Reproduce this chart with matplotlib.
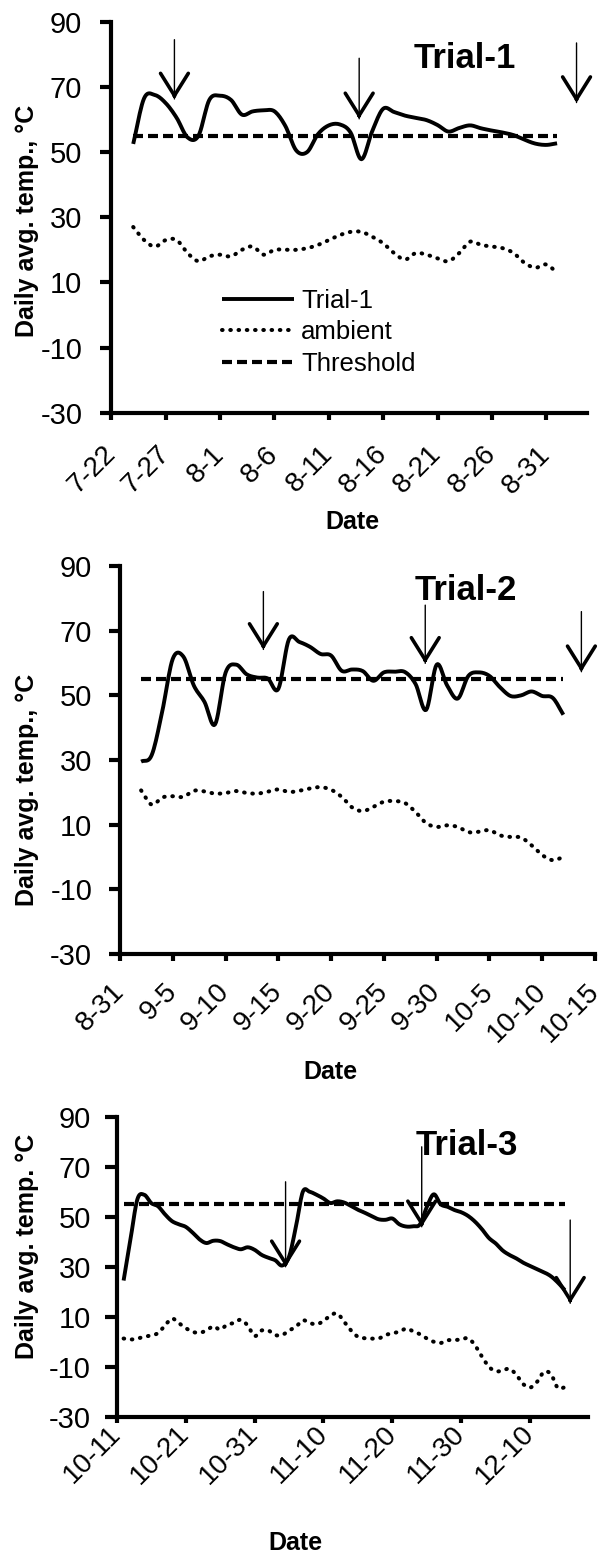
import numpy as np
import pandas as pd
import matplotlib
matplotlib.use('Agg')
import matplotlib.pyplot as plt
import matplotlib.dates as mdates

plt.rcParams['font.family'] = ['Liberation Sans', 'DejaVu Sans']

YEAR = 2013
THRESHOLD = 55

# Trial-1, daily averages starting 7-24
t1_start = '7-24'
t1_trial = [52.5, 66.5, 67.5, 65, 60.5, 54.5, 55, 66, 67.3, 66, 61.5, 62.5, 62.8, 62.5,
            58, 50.5, 50, 55.5, 58.2, 58.5, 56, 47.8, 56.5, 63.3, 62.3, 61.2, 60.5,
            59.8, 58.3, 56.3, 57.4, 58.2, 57.3, 56.6, 56, 55.2, 53.8, 52.6, 52.2, 52.7]
t1_ambient = [27, 23, 21, 23, 23, 19, 16.5, 18, 18.5, 18, 20, 21, 18.5, 20, 20, 20,
              20.5, 21.5, 23, 24.5, 25.5, 25.5, 24, 22, 19, 17, 19, 18.5, 17.4, 16.5,
              19, 22.5, 21.5, 21, 20.5, 19, 16, 14.5, 15.5, 13]
t1_ticks = ['7-22', '7-27', '8-1', '8-6', '8-11', '8-16', '8-21', '8-26', '8-31']
t1_arrow_x = ['7-27 19', '8-13 19', '9-2 19']
t1_arrow_top = [84.5, 78.8, 83.5]
t1_arrow_tip = [66.3, 60.2, 65.2]

# Trial-2, daily averages starting 9-2
t2_start = '9-2'
t2_trial = [29.5, 31.5, 45, 61.3, 62, 53, 48, 41, 57, 59.5, 56.5, 55.5, 55.2, 52,
            67.3, 66.5, 65, 62.8, 62.3, 57.6, 58, 57.5, 54.5, 57.1, 57.3, 57.2, 53.5,
            45.5, 59.5, 53, 49, 56, 57.1, 56, 52.5, 49.8, 50, 51.2, 49.8, 49.2, 44]
t2_ambient = [20.6, 16.2, 18.4, 18.8, 18.6, 20.5, 20.3, 19.6, 19.8, 20.4, 19.8, 19.6,
              20.2, 20.9, 20.1, 20.5, 21.2, 21.6, 20.8, 18.6, 15.3, 14.2, 15.5, 17.1,
              17.3, 16.7, 13.9, 10.5, 9.3, 9.8, 9.3, 7.7, 7.8, 8.3, 6.7, 6.2, 6, 3.6,
              0.6, -1, 0]
t2_ticks = ['8-31', '9-5', '9-10', '9-15', '9-20', '9-25', '9-30', '10-5', '10-10', '10-15']
t2_arrow_x = ['9-13 14', '9-28 22', '10-13 17']
t2_arrow_top = [82.1, 77.9, 75.9]
t2_arrow_tip = [64.2, 59.9, 57.3]

# Trial-3, daily averages starting 10-12
t3_start = '10-12'
t3_trial = [24.5, 41, 57, 58.8, 55.5, 54.2, 51, 48.3, 47, 46, 43.7, 41, 39.5, 40.4,
            40.3, 39, 37.8, 37, 37.8, 36.8, 34.8, 33.6, 32.6, 30.5, 34, 46, 60, 60,
            58.8, 57.3, 55.5, 56.2, 55.7, 54.3, 52.8, 51.6, 50.2, 49, 48.8, 49.3, 47,
            46.1, 46.2, 47, 54, 59, 55, 54, 52.7, 51.8, 50.3, 48, 45, 41.5, 39.3,
            36.5, 34.7, 33.3, 31.6, 30.3, 29, 27.8, 26.2, 23.7, 20.7]
t3_ambient = [1.3, 0.9, 1.3, 2, 2.5, 3.5, 6.5, 9.3, 7.5, 5.5, 4, 3.6, 4.5, 6.2, 4.9,
              6.8, 7.5, 8.8, 6.5, 2.3, 4.5, 4.5, 2.7, 2.7, 4.5, 6, 8.6, 7.5, 7, 8.3,
              10.5, 11.3, 8, 4.5, 2, 1.4, 1.3, 1.3, 2.7, 3.4, 4, 5.3, 4.2, 3, 1.3, 0,
              -0.5, 0.6, 0.7, 0.9, 1.4, -1.5, -6, -10, -11.8, -11.5, -10.8, -13.3, -17,
              -18.3, -16, -12, -13, -18.5, -18.2]
t3_ticks = ['10-11', '10-21', '10-31', '11-10', '11-20', '11-30', '12-10']
t3_arrow_x = ['11-4 12', '11-24 6', '12-15 19']
t3_arrow_top = [64, 78, 48.7]
t3_arrow_tip = [30, 46, 15.4]

y_ticks = [-30, -10, 10, 30, 50, 70, 90]


def md(s):
    # 'm-d' or 'm-d hh' -> matplotlib date number
    date, _, hour = s.partition(' ')
    m, d = date.split('-')
    ts = pd.Timestamp(year=YEAR, month=int(m), day=int(d)) + pd.Timedelta(hours=int(hour or 0))
    return mdates.date2num(ts)


def smooth(x, y, n=10):
    # Catmull-Rom curve through the points, like Excel's smoothed line
    x = np.asarray(x, float)
    y = np.asarray(y, float)
    xp = np.r_[2 * x[0] - x[1], x, 2 * x[-1] - x[-2]]
    yp = np.r_[2 * y[0] - y[1], y, 2 * y[-1] - y[-2]]
    t = np.linspace(0, 1, n, endpoint=False)[:, None]

    def cr(p):
        p0, p1, p2, p3 = p[:-3], p[1:-2], p[2:-1], p[3:]
        return 0.5 * (2 * p1 + (p2 - p0) * t + (2 * p0 - 5 * p1 + 4 * p2 - p3) * t ** 2
                      + (3 * p1 - p0 - 3 * p2 + p3) * t ** 3)
    return np.r_[cr(xp).T.ravel(), x[-1]], np.r_[cr(yp).T.ravel(), y[-1]]


fig = plt.figure(figsize=(6, 15.55), dpi=100)
ax1 = fig.add_axes([0.1858, 0.7346, 0.7932, 0.2514])
ax2 = fig.add_axes([0.2, 0.3865, 0.7917, 0.2495])
ax3 = fig.add_axes([0.1945, 0.0889, 0.786, 0.1929])

panels = [
    (ax1, t1_start, t1_trial, t1_ambient, t1_ticks, '7-22', '9-3 19', t1_arrow_x, t1_arrow_top,
     t1_arrow_tip, 'Trial-1', ('8-23 12', 78.8), 'Daily avg. temp., \u00b0C',
     (-0.178, 0.491), (0.507, -0.28), 8, 13, 5, 22),
    (ax2, t2_start, t2_trial, t2_ambient, t2_ticks, '8-31', '10-15', t2_arrow_x, t2_arrow_top,
     t2_arrow_tip, 'Trial-2', ('10-2 19', 82.3), 'Daily avg. temp., \u00b0C',
     (-0.195, 0.424), (0.444, -0.304), 8, 12, 5, 19),
    (ax3, t3_start, t3_trial, t3_ambient, t3_ticks, '10-11', '12-18 10', t3_arrow_x, t3_arrow_top,
     t3_arrow_tip, 'Trial-3', ('11-30 19', 78.7), 'Daily avg. temp. \u00b0C',
     (-0.19, 0.567), (0.38, -0.421), 9, 9.5, 4, 5.5),
]

for (ax, start, trial, ambient, ticks, xmin, xmax, ax_x, ax_top, ax_tip, title, title_pos,
     ylab, ylab_pos, xlab_pos, ylen, ypad, xlen, xpad) in panels:
    x = md(start) + np.arange(len(trial))
    sx, sy = smooth(x, trial)
    h_trial, = ax.plot(sx, sy, color='black', lw=2.8, solid_capstyle='butt')
    ax_days = md(start) + np.arange(len(ambient))
    sx, sy = smooth(ax_days, ambient)
    h_amb, = ax.plot(sx, sy, color='black', lw=2.9, linestyle=(0, (0.15, 1.9)),
                     dash_capstyle='round')
    h_thr, = ax.plot(x, np.full(len(x), THRESHOLD), color='black', lw=3,
                     linestyle=(0, (2.4, 1.2)))

    for xa, top, tip in zip(ax_x, ax_top, ax_tip):
        ax.annotate('', xy=(md(xa), tip), xytext=(md(xa), top),
                    arrowprops=dict(arrowstyle='-', lw=1.0, color='black',
                                    shrinkA=0, shrinkB=0))
        ax.annotate('', xy=(md(xa), tip), xytext=(md(xa), tip + 1.5),
                    arrowprops=dict(arrowstyle='->,head_length=0.8,head_width=0.5',
                                    mutation_scale=20, lw=2.6, color='black',
                                    shrinkA=0, shrinkB=0))

    ax.text(md(title_pos[0]), title_pos[1], title, ha='center', va='center',
            fontsize=25, fontweight='bold')

    ax.set_xlim(md(xmin), md(xmax))
    ax.set_ylim(-30, 90)
    ax.set_yticks(y_ticks)
    ax.set_yticklabels([str(v) for v in y_ticks])
    ax.set_xticks([md(t) for t in ticks])
    ax.set_xticklabels(ticks, rotation=45, ha='right', va='center', rotation_mode='anchor')

    for side in ['top', 'right']:
        ax.spines[side].set_visible(False)
    for side in ['left', 'bottom']:
        ax.spines[side].set_linewidth(3)
    ax.tick_params(axis='y', direction='out', length=ylen, width=3, pad=ypad, labelsize=21)
    ax.tick_params(axis='x', direction='out', length=xlen, width=3, pad=xpad, labelsize=20)

    ax.set_ylabel(ylab, fontsize=18, fontweight='bold', va='center')
    ax.yaxis.set_label_coords(*ylab_pos)
    ax.set_xlabel('Date', fontsize=18, fontweight='bold', va='center')
    ax.xaxis.set_label_coords(*xlab_pos)

    if ax is ax1:
        ax.legend([h_trial, h_amb, h_thr], ['Trial-1', 'ambient', 'Threshold'],
                  loc='upper left', bbox_to_anchor=(0.2315, 0.317), frameon=False,
                  fontsize=18.5, handlelength=2.8, handletextpad=0.3, labelspacing=0.3,
                  borderpad=0, borderaxespad=0)

fig.savefig('out.png', dpi=100)
